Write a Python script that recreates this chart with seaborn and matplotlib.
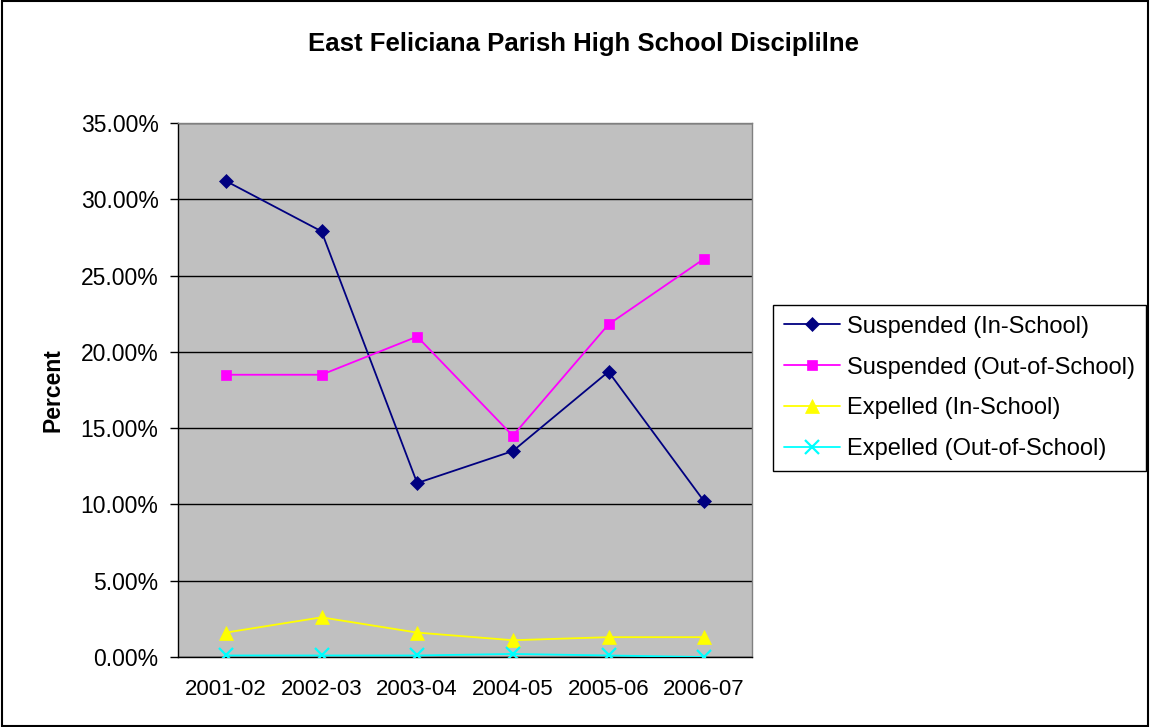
import matplotlib
matplotlib.use("Agg")
import matplotlib.pyplot as plt
import seaborn as sns
import pandas as pd
from matplotlib.ticker import FuncFormatter, FixedLocator, MultipleLocator

years = ["2001-02", "2002-03", "2003-04", "2004-05", "2005-06", "2006-07"]
susp_in = [31.2, 27.9, 11.4, 13.5, 18.7, 10.2]
susp_out = [18.5, 18.5, 21.0, 14.5, 21.8, 26.1]
exp_in = [1.6, 2.6, 1.6, 1.1, 1.3, 1.3]
exp_out = [0.1, 0.1, 0.1, 0.2, 0.1, 0.0]

series_names = ["Suspended (In-School)", "Suspended (Out-of-School)",
                "Expelled (In-School)", "Expelled (Out-of-School)"]
series_vals = [susp_in, susp_out, exp_in, exp_out]
colors = ["#000080", "#FF00FF", "#FFFF00", "#00FFFF"]
markers = ["D", "s", "^", "x"]
msizes = [7.5, 7.5, 10, 10]

sns.set_style("white")
plt.rcParams['font.family'] = ['Liberation Sans', 'DejaVu Sans']
plt.rcParams['text.color'] = 'black'
plt.rcParams['axes.labelcolor'] = 'black'
plt.rcParams['xtick.color'] = 'black'
plt.rcParams['ytick.color'] = 'black'

fig = plt.figure(figsize=(11.5, 7.27), dpi=100)
ax = fig.add_axes([178/1150, 1-657/727, (752-178)/1150, (657-123)/727])
ax.set_facecolor("#C0C0C0")

xpos = list(range(len(years)))
for name, vals, c, m, ms in zip(series_names, series_vals, colors, markers, msizes):
    df = pd.DataFrame({"x": xpos, "y": vals})
    sns.lineplot(data=df, x="x", y="y", ax=ax, color=c, marker=m, markersize=ms,
                 markeredgecolor=c, markeredgewidth=1.6 if m == "x" else 0.5,
                 linewidth=1.3, label=name, zorder=3)

ax.set_xlim(-0.5, len(years) - 0.5)
ax.set_ylim(0, 35)
ax.yaxis.set_major_locator(MultipleLocator(5))
ax.yaxis.set_major_formatter(FuncFormatter(lambda v, p: f"{v:.2f}%"))
ax.grid(axis="y", color="black", linewidth=1, zorder=1)
ax.set_axisbelow(True)

ax.set_xticks(xpos)
ax.set_xticklabels(years)
ax.xaxis.set_minor_locator(FixedLocator([i - 0.5 for i in range(len(years) + 1)]))
ax.tick_params(axis="x", which="major", length=0, pad=16, labelsize=16, labelcolor="black")
ax.tick_params(axis="x", which="minor", length=6, width=1, color="black", direction="out")
ax.tick_params(axis="y", which="major", length=6, width=1, color="black", direction="out",
               labelsize=16.5, pad=8, left=True, labelcolor="black")

for side in ["top", "right"]:
    ax.spines[side].set_color("#808080")
    ax.spines[side].set_linewidth(1)
for side in ["left", "bottom"]:
    ax.spines[side].set_color("black")
    ax.spines[side].set_linewidth(1)

ax.set_xlabel("")
ax.set_ylabel("Percent", fontsize=16.5, fontweight="bold", labelpad=12, color="black")

fig.suptitle("East Feliciana Parish High School Disciplilne", x=583/1150, y=1-44/727,
             va="center", fontsize=18.5, fontweight="bold", color="black")

leg = ax.legend(loc="upper left", bbox_to_anchor=(773/1150, 1-305/727),
                bbox_transform=fig.transFigure, fontsize=17, frameon=True,
                fancybox=False, edgecolor="black", framealpha=1,
                handlelength=2.4, labelspacing=0.8, borderpad=0.45, handletextpad=0.3,
                borderaxespad=0)
leg.get_frame().set_linewidth(1)
for t in leg.get_texts():
    t.set_color("black")

fig.patches.append(plt.Rectangle((0.002, 0.002), 0.996, 0.996, transform=fig.transFigure,
                                 fill=False, edgecolor="black", linewidth=1.5))

fig.savefig("out.png", dpi=100)
